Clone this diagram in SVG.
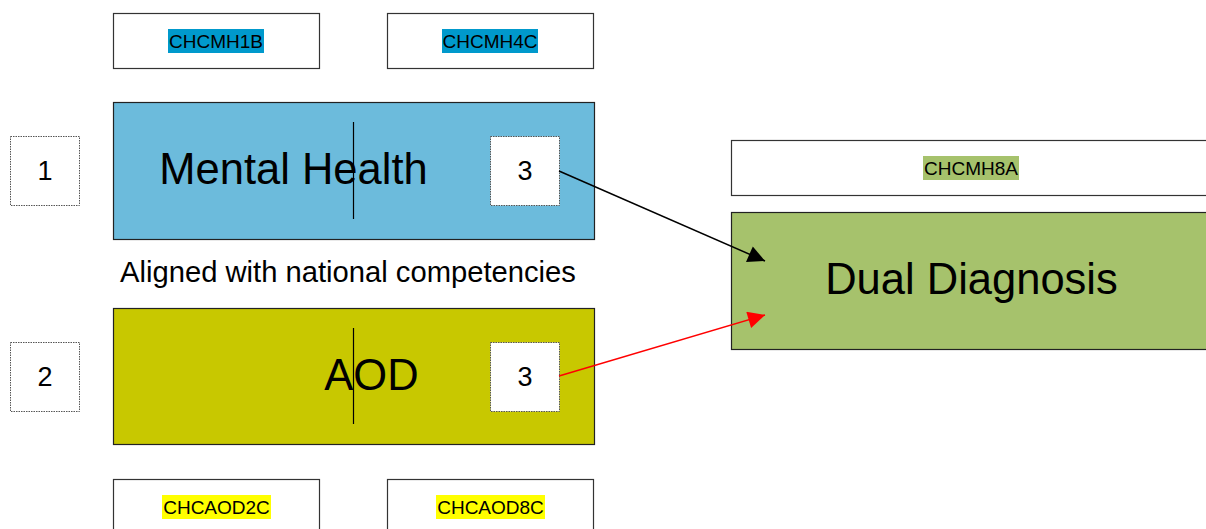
<svg xmlns="http://www.w3.org/2000/svg" width="1206" height="529" viewBox="0 0 1206 529">
<style>
text{font-family:"Liberation Sans",Arial,sans-serif;fill:#000}
.box{fill:#fff;stroke:#333;stroke-width:1.2}
.dot{fill:#fff;stroke:#555;stroke-width:1;stroke-dasharray:1.5 1}
.code{font-size:19px;text-anchor:middle}
.big{font-size:43.5px;text-anchor:middle}
.num{font-size:27px;text-anchor:middle}
.cursor{stroke:#000;stroke-width:1.2}
</style>
<defs>
<marker id="ahB" viewBox="0 0 10 10" refX="10" refY="5" markerWidth="22" markerHeight="17" markerUnits="userSpaceOnUse" orient="auto"><path d="M0,0 L10,5 L0,10 z" fill="#000"/></marker>
<marker id="ahR" viewBox="0 0 10 10" refX="10" refY="5" markerWidth="22" markerHeight="17" markerUnits="userSpaceOnUse" orient="auto"><path d="M0,0 L10,5 L0,10 z" fill="#f00"/></marker>
</defs>
<rect width="1206" height="529" fill="#fff"/>
<g id="chcmh1b"><rect class="box" x="113.5" y="13.5" width="206" height="55"/><rect x="168" y="29" width="96" height="24" fill="#0099cc"/><text class="code" x="216" y="48">CHCMH1B</text></g>
<g id="chcmh4c"><rect class="box" x="387.5" y="13.5" width="206" height="55"/><rect x="442" y="29" width="96" height="24" fill="#0099cc"/><text class="code" x="490" y="48">CHCMH4C</text></g>
<g id="n1"><rect class="dot" x="10.5" y="136.5" width="69" height="69"/><text class="num" x="45" y="180">1</text></g>
<g id="mental-health"><rect x="113.5" y="102.5" width="481" height="137" fill="#6cbbdc" stroke="#222" stroke-width="1.2"/><text class="big" x="293.5" y="184">Mental Health</text><line class="cursor" x1="353.5" y1="122" x2="353.5" y2="219"/></g>
<g id="mh3"><rect class="dot" x="490.5" y="136.5" width="69" height="69"/><text class="num" x="525" y="180">3</text></g>
<g id="aligned"><text x="120" y="282" font-size="29.2">Aligned with national competencies</text></g>
<g id="n2"><rect class="dot" x="10.5" y="342.5" width="69" height="69"/><text class="num" x="45" y="386">2</text></g>
<g id="aod"><rect x="113.5" y="308.5" width="481" height="136" fill="#c8c800" stroke="#222" stroke-width="1.2"/><text class="big" x="371.5" y="390">AOD</text><line class="cursor" x1="353.5" y1="328" x2="353.5" y2="424"/></g>
<g id="aod3"><rect class="dot" x="490.5" y="342.5" width="69" height="69"/><text class="num" x="525" y="386">3</text></g>
<g id="chcmh8a"><rect class="box" x="731.5" y="140.5" width="490" height="55"/><rect x="923" y="156" width="96" height="24" fill="#a6c26c"/><text class="code" x="971" y="175">CHCMH8A</text></g>
<g id="dual-diagnosis"><rect x="731.5" y="212.5" width="490" height="137" fill="#a6c26c" stroke="#222" stroke-width="1.2"/><text class="big" x="971.5" y="294">Dual Diagnosis</text></g>
<g id="chcaod2c"><rect class="box" x="113.5" y="479.5" width="206" height="60"/><rect x="162" y="495" width="109" height="24" fill="#ffff00"/><text class="code" x="216.5" y="514">CHCAOD2C</text></g>
<g id="chcaod8c"><rect class="box" x="387.5" y="479.5" width="206" height="60"/><rect x="436" y="495" width="109" height="24" fill="#ffff00"/><text class="code" x="490.5" y="514">CHCAOD8C</text></g>
<g id="connectors">
<line x1="559" y1="171" x2="765" y2="261" stroke="#000" stroke-width="1.5" marker-end="url(#ahB)"/>
<line x1="559" y1="376" x2="765" y2="315" stroke="#f00" stroke-width="1.5" marker-end="url(#ahR)"/>
</g>
</svg>
